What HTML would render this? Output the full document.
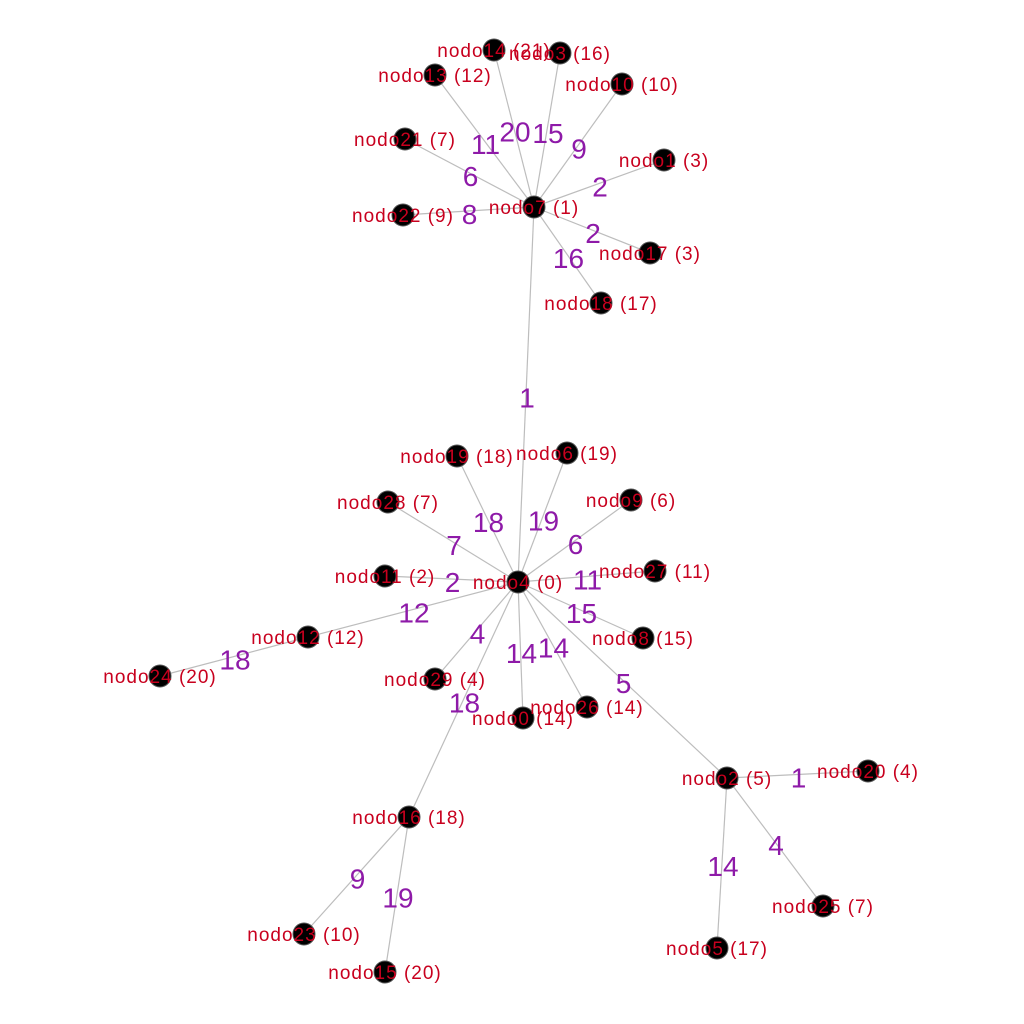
<!DOCTYPE html>
<html><head><meta charset="utf-8"><style>
html,body{margin:0;padding:0;background:#fff}
svg{display:block}
.lbl{font-family:"Liberation Sans",sans-serif;font-size:19px;letter-spacing:1px;fill:#c8001e}
.w{font-family:"Liberation Sans",sans-serif;font-size:28px;fill:#8e1aa8}
</style></head><body>
<svg id="g" width="1024" height="1024" viewBox="0 0 1024 1024">
<g id="edges"></g>
<g id="wl"></g>
<g id="nodes"></g>
<g id="labels"></g>
</svg>
<script>
const nodeIds=[7,14,3,13,10,21,1,22,17,18,4,19,6,28,9,11,27,12,8,24,29,0,26,2,20,16,25,5,23,15];
const nodeDist=[1,21,16,12,10,7,3,9,3,17,0,18,19,7,6,2,11,12,15,20,4,14,14,5,4,18,7,17,10,20];
const nodeX=[534,494,560,435,622,405,664,403,650,601,518,457,567,388,631,385,655,308,643,160,435,523,587,727,868,409,823,717,304,385];
const nodeY=[207,50,53,75,84,139,160,215,253,303,582,456,453,502,500,576,571,637,638,676,679,718,707,778,771,817,906,948,934,972];
const edgeFrom=[7,7,7,7,7,7,7,7,7,7,4,4,4,4,4,4,4,4,4,4,4,4,4,12,2,2,2,16,16];
const edgeTo=[4,14,3,13,10,21,1,22,17,18,19,6,28,9,11,27,12,8,29,0,26,2,16,24,20,25,5,23,15];
const edgeW=[1,20,15,11,9,6,2,8,2,16,18,19,7,6,2,11,12,15,4,14,14,5,18,18,1,4,14,9,19];
const NS="http://www.w3.org/2000/svg";
function pos(id){const i=nodeIds.indexOf(id);return [nodeX[i],nodeY[i]];}
const E=document.getElementById('edges'),W=document.getElementById('wl'),N=document.getElementById('nodes'),L=document.getElementById('labels');
edgeFrom.forEach((f,k)=>{
 const [x1,y1]=pos(f),[x2,y2]=pos(edgeTo[k]);
 const l=document.createElementNS(NS,'line');
 l.setAttribute('x1',x1);l.setAttribute('y1',y1);l.setAttribute('x2',x2);l.setAttribute('y2',y2);
 l.setAttribute('stroke','#bdbdbd');l.setAttribute('stroke-width','1.2');
 
 
 E.appendChild(l);
 const t=document.createElementNS(NS,'text');
 t.setAttribute('x',(x1+x2)/2+1);t.setAttribute('y',(y1+y2)/2+13);
 t.setAttribute('text-anchor','middle');t.setAttribute('class','w');
 t.textContent=edgeW[k];
 
 
 W.appendChild(t);
});
nodeIds.forEach((id,i)=>{
 const c=document.createElementNS(NS,'circle');
 c.setAttribute('cx',nodeX[i]);c.setAttribute('cy',nodeY[i]);c.setAttribute('r',11);
 c.setAttribute('fill','#000');c.setAttribute('stroke','#555');c.setAttribute('stroke-width','1');
 
 
 N.appendChild(c);
 const t=document.createElementNS(NS,'text');
 t.setAttribute('x',nodeX[i]);t.setAttribute('y',nodeY[i]+7);
 t.setAttribute('text-anchor','middle');t.setAttribute('class','lbl');
 t.textContent='nodo'+id+' ('+nodeDist[i]+')';
 
 
 L.appendChild(t);
});
</script>
</body></html>
